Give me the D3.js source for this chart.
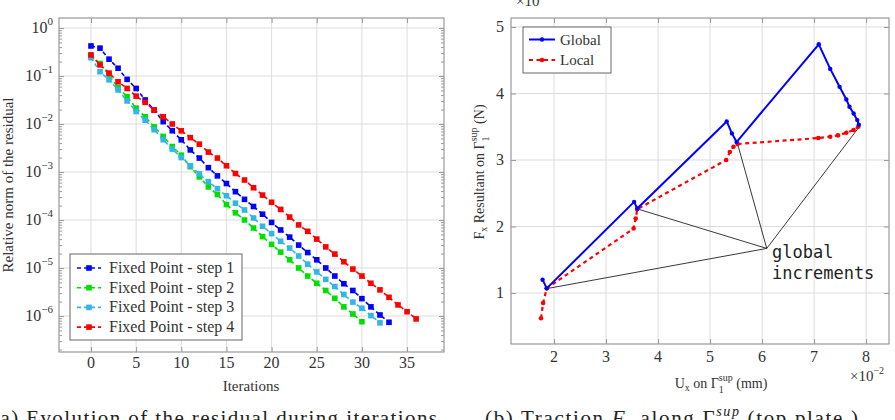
<!DOCTYPE html>
<html>
<head>
<meta charset="utf-8">
<script src="https://cdn.jsdelivr.net/npm/d3@7.9.0/dist/d3.min.js"></script>
<style>
  body { margin: 0; background: #fff; }
  svg { display: block; font-family: 'Liberation Serif', 'DejaVu Serif', serif; }
</style>
</head>
<body>
<svg id="fig" width="895" height="420"></svg>
<script>
// ---- data, left chart: residual per iteration (index = iteration number)
const residualStep1 = [0.422, 0.380, 0.224, 0.145, 0.0851, 0.0550, 0.0316, 0.0195, 0.0112, 7.24e-3,
  4.68e-3, 2.88e-3, 1.95e-3, 1.23e-3, 8.3e-4, 5.75e-4, 3.89e-4, 2.69e-4, 1.91e-4, 1.32e-4,
  8.9e-5, 6.2e-5, 4.4e-5, 3.0e-5, 2.1e-5, 1.48e-5, 1.0e-5, 6.8e-6, 4.7e-6, 3.4e-6,
  2.3e-6, 1.55e-6, 1.05e-6, 7.4e-7];
const residualStep2 = [0.263, 0.182, 0.105, 0.0575, 0.0372, 0.0214, 0.0141, 8.7e-3, 5.5e-3, 3.39e-3,
  2.24e-3, 1.29e-3, 7.9e-4, 4.9e-4, 3.4e-4, 2.1e-4, 1.41e-4, 1.0e-4, 6.8e-5, 4.5e-5,
  3.1e-5, 2.14e-5, 1.48e-5, 1.0e-5, 6.8e-6, 4.8e-6, 3.4e-6, 2.34e-6, 1.55e-6, 1.1e-6, 7.6e-7];
const residualStep3 = [0.240, 0.123, 0.0832, 0.0513, 0.0302, 0.0182, 0.0120, 7.6e-3, 4.7e-3, 3.0e-3,
  2.0e-3, 1.35e-3, 9.1e-4, 6.3e-4, 4.5e-4, 3.2e-4, 2.24e-4, 1.62e-4, 1.1e-4, 7.4e-5,
  5.2e-5, 3.6e-5, 2.6e-5, 1.78e-5, 1.2e-5, 8.3e-6, 5.8e-6, 4.1e-6, 2.8e-6, 1.95e-6,
  1.45e-6, 1.02e-6, 7.2e-7];
const residualStep4 = [0.275, 0.170, 0.115, 0.0759, 0.0550, 0.0380, 0.0282, 0.0195, 0.0141, 0.0100,
  7.2e-3, 5.2e-3, 3.8e-3, 2.6e-3, 1.95e-3, 1.35e-3, 9.3e-4, 6.8e-4, 4.7e-4, 3.3e-4,
  2.34e-4, 1.66e-4, 1.15e-4, 7.9e-5, 5.8e-5, 4.0e-5, 2.75e-5, 1.95e-5, 1.35e-5, 9.5e-6,
  6.8e-6, 4.8e-6, 3.5e-6, 2.45e-6, 1.7e-6, 1.23e-6, 8.7e-7];
const stepNames = ['Fixed Point - step 1', 'Fixed Point - step 2', 'Fixed Point - step 3', 'Fixed Point - step 4'];
const stepColors = ['#0000ff', '#00e000', '#33b5e8', '#ff0000'];
const iterTicks = [0, 5, 10, 15, 20, 25, 30, 35];
const decadeTicks = [0, -1, -2, -3, -4, -5, -6];

// ---- data, right chart: traction (x 1e-2 mm, y 1e-? N)
const globalU = [1.78, 1.86, 3.54, 3.60, 5.32, 5.42, 5.51, 7.09, 7.31, 7.49, 7.62, 7.68, 7.76, 7.83, 7.86];
const globalF = [1.20, 1.07, 2.37, 2.27, 3.58, 3.40, 3.27, 4.74, 4.37, 4.10, 3.91, 3.80, 3.70, 3.60, 3.53];
const localU = [1.75, 1.79, 1.86, 3.53, 3.57, 3.60, 5.31, 5.38, 5.45, 5.53, 7.08, 7.31, 7.46, 7.62, 7.76, 7.85];
const localF = [0.62, 0.85, 1.07, 1.97, 2.12, 2.26, 3.00, 3.12, 3.20, 3.24, 3.33, 3.35, 3.37, 3.41, 3.45, 3.50];
const incrementU = [1.89, 3.62, 5.53, 7.85];
const incrementF = [1.07, 2.26, 3.24, 3.48];
const labelU = 6.09, labelF = 1.67;
const uTicks = [2, 3, 4, 5, 6, 7, 8];
const fTicks = [1, 2, 3, 4, 5];

const svg = d3.select('#fig');
const gridColor = '#dddddd';
const boxColor = '#999999';

// ================= left chart =================
const L = { left: 59, right: 444, top: 18, bottom: 352 };
const xL = d3.scaleLinear().domain([-3.54, 39.09]).range([L.left, L.right]);
const yL = d3.scaleLog().domain([Math.pow(10, -6.75), Math.pow(10, 0.208)]).range([L.bottom, L.top]);

const gL = svg.append('g');

// grid
gL.selectAll('.vg').data(iterTicks).join('line')
  .attr('x1', d => xL(d)).attr('x2', d => xL(d))
  .attr('y1', L.top).attr('y2', L.bottom)
  .attr('stroke', gridColor).attr('stroke-width', 1);
gL.selectAll('.hg').data(decadeTicks).join('line')
  .attr('x1', L.left).attr('x2', L.right)
  .attr('y1', d => yL(Math.pow(10, d))).attr('y2', d => yL(Math.pow(10, d)))
  .attr('stroke', gridColor).attr('stroke-width', 1);

// ticks inside the box, both sides, via d3 axes
const minorVals = [];
for (let e = -7; e <= 0; e++) for (let m = 2; m <= 9; m++) {
  const v = m * Math.pow(10, e);
  if (v > yL.domain()[0] && v < yL.domain()[1]) minorVals.push(v);
}
const majorVals = decadeTicks.map(d => Math.pow(10, d));
function tickGroup(g, axis) {
  g.call(axis);
  g.select('.domain').remove();
  g.selectAll('line').attr('stroke', boxColor);
}
gL.append('g').attr('transform', `translate(${L.left},0)`)
  .call(g => tickGroup(g, d3.axisRight(yL).tickValues(minorVals).tickSize(3).tickFormat('')));
gL.append('g').attr('transform', `translate(${L.right},0)`)
  .call(g => tickGroup(g, d3.axisLeft(yL).tickValues(minorVals).tickSize(3).tickFormat('')));
gL.append('g').attr('transform', `translate(${L.left},0)`)
  .call(g => tickGroup(g, d3.axisRight(yL).tickValues(majorVals).tickSize(5).tickFormat('')));
gL.append('g').attr('transform', `translate(${L.right},0)`)
  .call(g => tickGroup(g, d3.axisLeft(yL).tickValues(majorVals).tickSize(5).tickFormat('')));
gL.append('g').attr('transform', `translate(0,${L.bottom})`)
  .call(g => tickGroup(g, d3.axisTop(xL).tickValues(iterTicks).tickSize(5).tickFormat('')));
gL.append('g').attr('transform', `translate(0,${L.top})`)
  .call(g => tickGroup(g, d3.axisBottom(xL).tickValues(iterTicks).tickSize(5).tickFormat('')));

// box
gL.append('rect').attr('x', L.left).attr('y', L.top)
  .attr('width', L.right - L.left).attr('height', L.bottom - L.top)
  .attr('fill', 'none').attr('stroke', boxColor).attr('stroke-width', 1.2);

// tick labels
gL.selectAll('.xl').data(iterTicks).join('text')
  .attr('x', d => xL(d)).attr('y', 368)
  .attr('text-anchor', 'middle').attr('font-size', 16).attr('fill', '#333')
  .text(d => d);
gL.selectAll('.yl').data(decadeTicks).join('text')
  .attr('x', 53).attr('y', d => yL(Math.pow(10, d)) + 5.5)
  .attr('text-anchor', 'end').attr('font-size', 16).attr('fill', '#333')
  .each(function(d) {
    const t = d3.select(this);
    t.append('tspan').text('10');
    t.append('tspan').attr('dy', -8).attr('font-size', 11).text(d === 0 ? '0' : '\u2212' + (-d));
  });

gL.append('text').attr('x', 251).attr('y', 391).attr('text-anchor', 'middle')
  .attr('font-size', 15).attr('fill', '#333').text('Iterations');
gL.append('text').attr('transform', 'translate(13,185) rotate(-90)')
  .attr('text-anchor', 'middle').attr('font-size', 15).attr('fill', '#333')
  .text('Relative norm of the residual');

// series
const residuals = [residualStep1, residualStep2, residualStep3, residualStep4];
const lineL = d3.line().x((d, i) => xL(i)).y(d => yL(d));
residuals.forEach((res, k) => {
  const col = stepColors[k];
  const s = gL.append('g');
  s.append('path').datum(res).attr('d', lineL)
    .attr('fill', 'none').attr('stroke', col).attr('stroke-width', 1.6)
    .attr('stroke-dasharray', '4,3');
  s.selectAll('rect').data(res).join('rect')
    .attr('x', (d, i) => xL(i) - 2.8).attr('y', d => yL(d) - 2.8)
    .attr('width', 5.6).attr('height', 5.6).attr('fill', col);
});

// legend
const lgL = gL.append('g');
lgL.append('rect').attr('x', 70).attr('y', 254).attr('width', 172).attr('height', 86)
  .attr('fill', '#fff').attr('stroke', '#666').attr('stroke-width', 1);
stepNames.forEach((name, k) => {
  const y = 268 + k * 19.7;
  lgL.append('line').attr('x1', 77).attr('x2', 101).attr('y1', y).attr('y2', y)
    .attr('stroke', stepColors[k]).attr('stroke-width', 1.6).attr('stroke-dasharray', '4,3');
  lgL.append('rect').attr('x', 89 - 2.8).attr('y', y - 2.8).attr('width', 5.6).attr('height', 5.6)
    .attr('fill', stepColors[k]);
  lgL.append('text').attr('x', 109).attr('y', y + 5).attr('font-size', 16).attr('fill', '#333').text(name);
});

// caption (a)
svg.append('text').attr('x', -8).attr('y', 425).attr('font-size', 21).attr('fill', '#222')
  .attr('textLength', 445).text('(a) Evolution of the residual during iterations');

// ================= right chart =================
const R = { left: 511, right: 889, top: 18, bottom: 344 };
const xR = d3.scaleLinear().domain([1.173, 8.44]).range([R.left, R.right]);
const yR = d3.scaleLinear().domain([0.233, 5.135]).range([R.bottom, R.top]);
const gR = svg.append('g');

gR.selectAll('.vg').data(uTicks).join('line')
  .attr('x1', d => xR(d)).attr('x2', d => xR(d)).attr('y1', R.top).attr('y2', R.bottom)
  .attr('stroke', gridColor).attr('stroke-width', 1);
gR.selectAll('.hg').data(fTicks).join('line')
  .attr('x1', R.left).attr('x2', R.right).attr('y1', d => yR(d)).attr('y2', d => yR(d))
  .attr('stroke', gridColor).attr('stroke-width', 1);

gR.append('g').attr('transform', `translate(${R.left},0)`)
  .call(g => tickGroup(g, d3.axisRight(yR).tickValues(fTicks).tickSize(5).tickFormat('')));
gR.append('g').attr('transform', `translate(${R.right},0)`)
  .call(g => tickGroup(g, d3.axisLeft(yR).tickValues(fTicks).tickSize(5).tickFormat('')));
gR.append('g').attr('transform', `translate(0,${R.bottom})`)
  .call(g => tickGroup(g, d3.axisTop(xR).tickValues(uTicks).tickSize(5).tickFormat('')));
gR.append('g').attr('transform', `translate(0,${R.top})`)
  .call(g => tickGroup(g, d3.axisBottom(xR).tickValues(uTicks).tickSize(5).tickFormat('')));

gR.append('rect').attr('x', R.left).attr('y', R.top)
  .attr('width', R.right - R.left).attr('height', R.bottom - R.top)
  .attr('fill', 'none').attr('stroke', boxColor).attr('stroke-width', 1.2);

gR.selectAll('.xl').data(uTicks).join('text')
  .attr('x', d => xR(d)).attr('y', 362).attr('text-anchor', 'middle')
  .attr('font-size', 16).attr('fill', '#333').text(d => d);
gR.selectAll('.yl').data(fTicks).join('text')
  .attr('x', 504).attr('y', d => yR(d) + 5.5).attr('text-anchor', 'end')
  .attr('font-size', 16).attr('fill', '#333').text(d => d);

// exponent labels
const expTop = gR.append('text').attr('x', 516).attr('y', 6).attr('font-size', 15).attr('fill', '#333');
expTop.append('tspan').text('\u00d710');
expTop.append('tspan').attr('dy', -7).attr('font-size', 10).text('\u22122');
const expBot = gR.append('text').attr('x', 850).attr('y', 381).attr('font-size', 15).attr('fill', '#333');
expBot.append('tspan').text('\u00d710');
expBot.append('tspan').attr('dy', -7).attr('font-size', 10).text('\u22122');

// axis labels
const xlab = gR.append('text').attr('x', 721).attr('y', 388).attr('text-anchor', 'middle')
  .attr('font-size', 14).attr('fill', '#333');
xlab.append('tspan').text('U');
xlab.append('tspan').attr('dy', 3).attr('font-size', 10).text('x');
xlab.append('tspan').attr('dy', -3).text(' on \u0393');
xlab.append('tspan').attr('dy', -7).attr('font-size', 10).text('sup');
xlab.append('tspan').attr('dx', -14).attr('dy', 12).attr('font-size', 10).text('1');
xlab.append('tspan').attr('dx', 9).attr('dy', -5).text(' (mm)');

const ylab = gR.append('text').attr('transform', 'translate(484,172) rotate(-90)')
  .attr('text-anchor', 'middle').attr('font-size', 14).attr('fill', '#333');
ylab.append('tspan').text('F');
ylab.append('tspan').attr('dy', 3).attr('font-size', 10).text('x');
ylab.append('tspan').attr('dy', -3).text(' Resultant on \u0393');
ylab.append('tspan').attr('dy', -7).attr('font-size', 10).text('sup');
ylab.append('tspan').attr('dx', -14).attr('dy', 12).attr('font-size', 10).text('1');
ylab.append('tspan').attr('dx', 9).attr('dy', -5).text(' (N)');

// annotation lines
gR.selectAll('.ann').data(incrementU).join('line')
  .attr('x1', xR(labelU)).attr('y1', yR(labelF))
  .attr('x2', d => xR(d)).attr('y2', (d, i) => yR(incrementF[i]))
  .attr('stroke', '#222').attr('stroke-width', 0.9);

// series
const globalPts = globalU.map((u, i) => [u, globalF[i]]);
const localPts = localU.map((u, i) => [u, localF[i]]);
const lineR = d3.line().x(d => xR(d[0])).y(d => yR(d[1]));

gR.append('path').datum(localPts).attr('d', lineR)
  .attr('fill', 'none').attr('stroke', '#ff0000').attr('stroke-width', 2.2)
  .attr('stroke-dasharray', '4,3.5');
gR.selectAll('.lm').data(localPts).join('circle')
  .attr('cx', d => xR(d[0])).attr('cy', d => yR(d[1])).attr('r', 2.3).attr('fill', '#ff0000');

gR.append('path').datum(globalPts).attr('d', lineR)
  .attr('fill', 'none').attr('stroke', '#0000ff').attr('stroke-width', 2);
gR.selectAll('.gm').data(globalPts).join('circle')
  .attr('cx', d => xR(d[0])).attr('cy', d => yR(d[1])).attr('r', 2.2).attr('fill', '#0000ff');

// annotation text
const ann = gR.append('text').attr('font-family', "'DejaVu Sans Mono', monospace")
  .attr('font-size', 17).attr('fill', '#222');
ann.append('tspan').attr('x', 772).attr('y', 258).text('global');
ann.append('tspan').attr('x', 772).attr('y', 279).text('increments');

// legend
const lgR = gR.append('g');
lgR.append('rect').attr('x', 523).attr('y', 27).attr('width', 88).attr('height', 46)
  .attr('fill', '#fff').attr('stroke', '#666').attr('stroke-width', 1);
lgR.append('line').attr('x1', 529).attr('x2', 555).attr('y1', 39.5).attr('y2', 39.5)
  .attr('stroke', '#0000ff').attr('stroke-width', 2);
lgR.append('circle').attr('cx', 542).attr('cy', 39.5).attr('r', 2.2).attr('fill', '#0000ff');
lgR.append('text').attr('x', 560).attr('y', 44.5).attr('font-size', 15).attr('fill', '#333').text('Global');
lgR.append('line').attr('x1', 529).attr('x2', 555).attr('y1', 60).attr('y2', 60)
  .attr('stroke', '#ff0000').attr('stroke-width', 2.2).attr('stroke-dasharray', '4,3.5');
lgR.append('circle').attr('cx', 542).attr('cy', 60).attr('r', 2.3).attr('fill', '#ff0000');
lgR.append('text').attr('x', 560).attr('y', 65).attr('font-size', 15).attr('fill', '#333').text('Local');

// caption (b)
const capB = svg.append('text').attr('x', 485).attr('y', 425).attr('font-size', 21).attr('fill', '#222')
  .attr('textLength', 373);
capB.append('tspan').text('(b) Traction ');
capB.append('tspan').attr('font-style', 'italic').text('F');
capB.append('tspan').attr('font-style', 'italic').attr('font-size', 13).attr('dy', 4).text('x');
capB.append('tspan').attr('dy', -4).text(' along \u0393');
capB.append('tspan').attr('font-style', 'italic').attr('font-size', 14).attr('dy', -9).text('sup');
capB.append('tspan').attr('dy', 9).text(' (top plate )');
</script>
</body>
</html>
